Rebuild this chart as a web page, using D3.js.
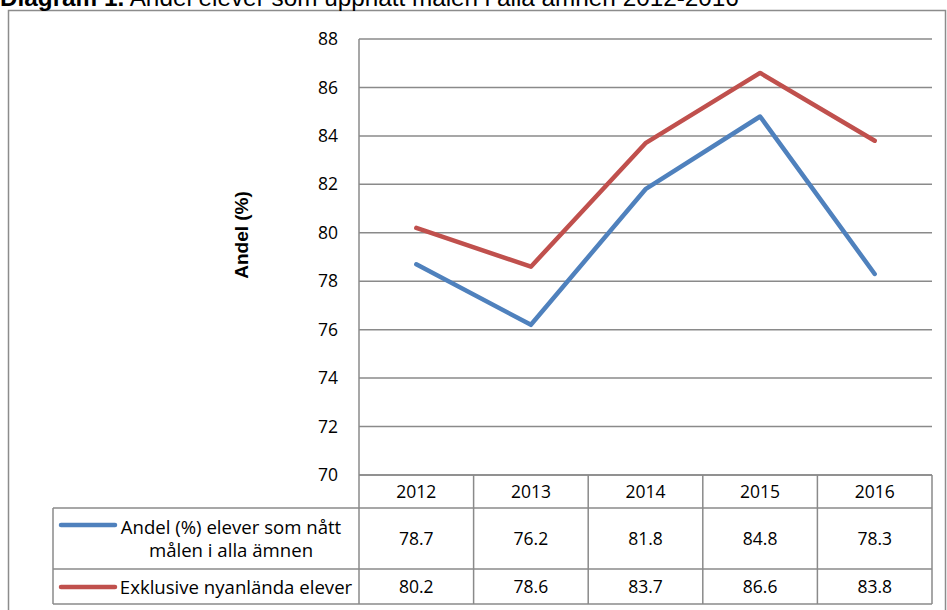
<!DOCTYPE html>
<html>
<head>
<meta charset="utf-8">
<script src="https://cdn.jsdelivr.net/npm/d3@7"></script>
<style>
  body { margin: 0; background: #fff; }
  svg { display: block; }
</style>
</head>
<body>
<div id="chart"></div>
<script>
// Diagram 1: andel elever som uppnått målen i alla ämnen 2012-2016

const years = ["2012", "2013", "2014", "2015", "2016"];
const andelAlla = [78.7, 76.2, 81.8, 84.8, 78.3];
const exklNyanlanda = [80.2, 78.6, 83.7, 86.6, 83.8];
const yTicks = [70, 72, 74, 76, 78, 80, 82, 84, 86, 88];
const seriesNames = [["Andel (%) elever som nått", "målen i alla ämnen"], ["Exklusive nyanlända elever"]];
const seriesColors = ["#4f81bd", "#c0504d"];

const W = 947, H = 610;
const plot = { left: 359, right: 932, top: 39, bottom: 475 };
const rows = [475, 508, 569, 604];
const tableLeft = 53;
const numFont = "'Open Sans', sans-serif";
const numSize = "17.5px";

const svg = d3.select("#chart").append("svg")
    .attr("width", W)
    .attr("height", H);

// outer frame
svg.append("rect")
    .attr("x", 8.5).attr("y", 10.5)
    .attr("width", 937).attr("height", 640)
    .attr("fill", "none")
    .attr("stroke", "#8c8c8c")
    .attr("stroke-width", 1.5);

// title (cut at the top of the picture, as in the original)
const title = svg.append("text")
    .attr("x", 0).attr("y", 5.5)
    .style("font-family", "'Liberation Sans', Arial, sans-serif")
    .style("font-size", "24.3px");
title.append("tspan").style("font-weight", "bold").text("Diagram 1.");
title.append("tspan").text(" Andel elever som uppnått målen i alla ämnen 2012-2016");

const x = d3.scaleBand().domain(years).range([plot.left, plot.right]);
const y = d3.scaleLinear().domain([70, 88]).range([plot.bottom, plot.top]);

// gridlines
svg.append("g").selectAll("line")
    .data(yTicks)
    .join("line")
    .attr("x1", plot.left).attr("x2", plot.right)
    .attr("y1", d => y(d)).attr("y2", d => y(d))
    .attr("stroke", "#8a8a8a")
    .attr("stroke-width", 1.5);

// y axis line
svg.append("line")
    .attr("x1", plot.left).attr("x2", plot.left)
    .attr("y1", plot.top).attr("y2", plot.bottom)
    .attr("stroke", "#8a8a8a").attr("stroke-width", 1.5);

// tick labels
svg.append("g").selectAll("text")
    .data(yTicks)
    .join("text")
    .attr("x", 338)
    .attr("y", d => y(d))
    .attr("dy", "0.35em")
    .attr("text-anchor", "end")
    .style("font-family", numFont)
    .style("font-size", numSize)
    .attr("fill", "#000")
    .text(d => d);

// axis title
svg.append("text")
    .attr("transform", `translate(248, 235) rotate(-90)`)
    .attr("text-anchor", "middle")
    .style("font-family", "'Liberation Sans', Arial, sans-serif")
    .style("font-size", "19px")
    .style("font-weight", "bold")
    .text("Andel (%)");

// lines
const line = d3.line()
    .x((d, i) => x(years[i]) + x.bandwidth() / 2)
    .y(d => y(d));

[andelAlla, exklNyanlanda].forEach((vals, i) => {
    svg.append("path")
        .datum(vals)
        .attr("d", line)
        .attr("fill", "none")
        .attr("stroke", seriesColors[i])
        .attr("stroke-width", 4.5)
        .attr("stroke-linecap", "round")
        .attr("stroke-linejoin", "round");
});

// data table
const tb = svg.append("g");
const border = "#8a8a8a";

// horizontal lines
[
    [plot.left, rows[0]],
    [tableLeft, rows[1]],
    [tableLeft, rows[2]],
    [tableLeft, rows[3]]
].forEach(([x0, yy]) => {
    tb.append("line")
        .attr("x1", x0).attr("x2", plot.right)
        .attr("y1", yy).attr("y2", yy)
        .attr("stroke", border).attr("stroke-width", 1.5);
});

// vertical lines
const colEdges = years.map(d => x(d)).concat([plot.right]);
colEdges.forEach(xx => {
    tb.append("line")
        .attr("x1", xx).attr("x2", xx)
        .attr("y1", rows[0]).attr("y2", rows[3])
        .attr("stroke", border).attr("stroke-width", 1.5);
});
tb.append("line")
    .attr("x1", tableLeft).attr("x2", tableLeft)
    .attr("y1", rows[1]).attr("y2", rows[3])
    .attr("stroke", border).attr("stroke-width", 1.5);

const cellText = (xx, yy, txt, size) => tb.append("text")
    .attr("x", xx).attr("y", yy)
    .attr("dy", "0.35em")
    .attr("text-anchor", "middle")
    .style("font-family", numFont)
    .style("font-size", size || numSize)
    .text(txt);

years.forEach((yr, i) => {
    const cx = x(yr) + x.bandwidth() / 2;
    cellText(cx, (rows[0] + rows[1]) / 2, yr);
    cellText(cx, (rows[1] + rows[2]) / 2, andelAlla[i].toFixed(1));
    cellText(cx, (rows[2] + rows[3]) / 2, exklNyanlanda[i].toFixed(1));
});

// legend keys in the table
const legendRows = [
    { key: 525, lines: [527, 550], cx: 231 },
    { key: 587, lines: [587], cx: 236 }
];
legendRows.forEach((r, i) => {
    tb.append("line")
        .attr("x1", 61).attr("x2", 115)
        .attr("y1", r.key).attr("y2", r.key)
        .attr("stroke", seriesColors[i])
        .attr("stroke-width", 4.5)
        .attr("stroke-linecap", "round");
    seriesNames[i].forEach((t, j) => cellText(r.cx, r.lines[j], t, "18.6px"));
});
</script>
</body>
</html>
